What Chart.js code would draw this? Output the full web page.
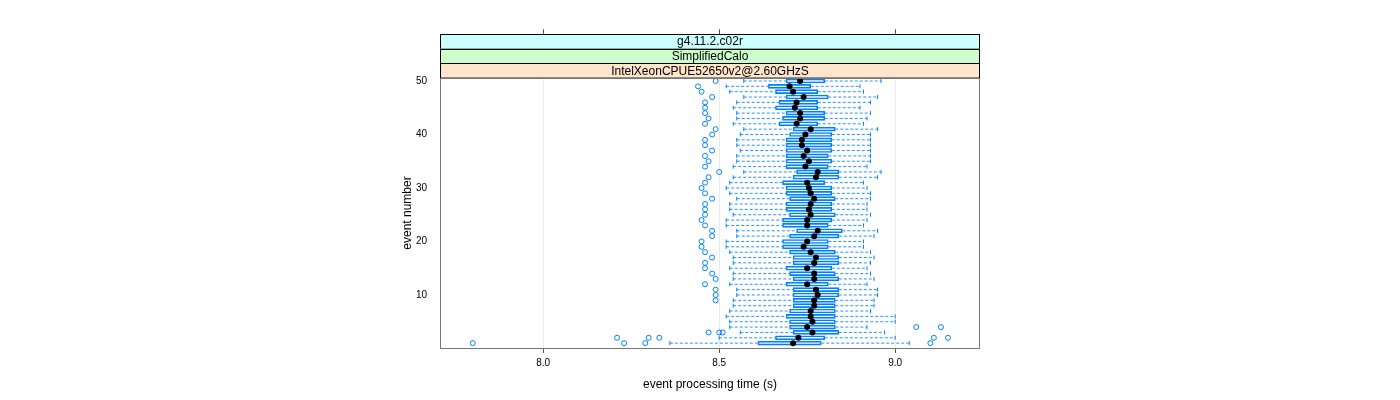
<!DOCTYPE html>
<html>
<head>
<meta charset="utf-8">
<script src="https://cdn.jsdelivr.net/npm/chart.js@4"></script>
<style>
  html, body { margin: 0; padding: 0; background: #fff; }
  #wrap { width: 1400px; height: 400px; }
</style>
</head>
<body>
<div id="wrap"><canvas id="myChart" width="1400" height="400"></canvas></div>
<script>
// event numbers 1..50
const events = Array.from({length: 50}, (_, i) => i + 1);

// box statistics per event (seconds), event 1 first
const whiskerLow = [8.36, 8.50, 8.56, 8.53, 8.53, 8.52, 8.53, 8.54, 8.54, 8.55,
  8.55, 8.53, 8.54, 8.54, 8.53, 8.54, 8.54, 8.53, 8.52, 8.52,
  8.55, 8.55, 8.52, 8.52, 8.54, 8.53, 8.53, 8.55, 8.53, 8.52,
  8.53, 8.54, 8.57, 8.54, 8.55, 8.55, 8.56, 8.55, 8.55, 8.56,
  8.57, 8.54, 8.55, 8.55, 8.54, 8.55, 8.57, 8.53, 8.52, 8.57];
const q1 = [8.61, 8.66, 8.71, 8.70, 8.70, 8.69, 8.70, 8.71, 8.71, 8.71,
  8.71, 8.69, 8.71, 8.70, 8.69, 8.71, 8.71, 8.70, 8.68, 8.68,
  8.70, 8.72, 8.68, 8.68, 8.70, 8.69, 8.69, 8.70, 8.69, 8.69,
  8.68, 8.71, 8.72, 8.69, 8.69, 8.69, 8.69, 8.69, 8.69, 8.70,
  8.71, 8.67, 8.68, 8.69, 8.66, 8.67, 8.69, 8.66, 8.64, 8.69];
const medians = [8.71, 8.725, 8.765, 8.75, 8.765, 8.76, 8.76, 8.77, 8.77, 8.78,
  8.775, 8.75, 8.77, 8.77, 8.75, 8.77, 8.775, 8.76, 8.74, 8.75,
  8.77, 8.78, 8.75, 8.75, 8.76, 8.755, 8.76, 8.77, 8.76, 8.755,
  8.75, 8.775, 8.78, 8.745, 8.755, 8.74, 8.75, 8.735, 8.735, 8.745,
  8.76, 8.72, 8.73, 8.73, 8.715, 8.72, 8.74, 8.71, 8.70, 8.73];
const q3 = [8.79, 8.80, 8.84, 8.83, 8.83, 8.83, 8.83, 8.83, 8.83, 8.84,
  8.84, 8.81, 8.84, 8.83, 8.82, 8.84, 8.84, 8.83, 8.81, 8.81,
  8.84, 8.85, 8.81, 8.82, 8.83, 8.82, 8.82, 8.83, 8.82, 8.82,
  8.80, 8.84, 8.84, 8.81, 8.82, 8.81, 8.82, 8.82, 8.82, 8.82,
  8.83, 8.78, 8.80, 8.80, 8.78, 8.78, 8.81, 8.78, 8.76, 8.80];
const whiskerHigh = [9.04, 9.00, 8.97, 8.92, 9.00, 9.00, 8.93, 8.94, 8.94, 8.95,
  8.95, 8.92, 8.94, 8.93, 8.92, 8.93, 8.94, 8.93, 8.91, 8.91,
  8.94, 8.95, 8.91, 8.92, 8.93, 8.92, 8.92, 8.93, 8.93, 8.92,
  8.91, 8.95, 8.96, 8.92, 8.93, 8.93, 8.93, 8.93, 8.93, 8.93,
  8.95, 8.91, 8.92, 8.93, 8.90, 8.93, 8.95, 8.91, 8.90, 8.96];
const outliers = [
  [7.80, 8.23, 8.29, 9.10], [8.21, 8.30, 8.33, 9.11, 9.15], [8.47, 8.50, 8.51], [9.06, 9.13], [],
  [], [], [], [8.49], [8.49],
  [8.49], [8.46], [8.49], [8.48], [8.46], [8.46], [8.48], [8.46], [8.45], [8.45],
  [8.48], [8.48], [8.46], [8.45], [8.46], [8.46], [8.46], [8.48], [8.46], [8.45],
  [8.46], [8.47], [8.50], [8.46], [8.47], [8.46], [8.48], [8.46], [8.46], [8.48],
  [8.49], [8.46], [8.47], [8.46], [8.46], [8.46], [8.48], [8.45], [8.44], [8.49]
];

// axis ticks
const xTicks = [8.0, 8.5, 9.0];
const yTicks = [10, 20, 30, 40, 50];

// strip labels, top to bottom
const strips = ['g4.11.2.c02r', 'SimplifiedCalo', 'IntelXeonCPUE52650v2@2.60GHzS'];
const stripColors = ['#CCFFFF', '#CCFFCC', '#FFE5CC'];

const blue = '#0080FF';
const font = 'Liberation Sans, Arial, Helvetica, sans-serif';

// whisker segments, broken with null between events
const whiskerPts = [];
const capPts = [];
events.forEach((k, i) => {
  whiskerPts.push({x: whiskerLow[i], y: k}, {x: q1[i], y: k}, {x: q1[i], y: null});
  whiskerPts.push({x: q3[i], y: k}, {x: whiskerHigh[i], y: k}, {x: whiskerHigh[i], y: null});
  capPts.push({x: whiskerLow[i], y: k}, {x: whiskerHigh[i], y: k});
});
const outlierPts = [];
events.forEach((k, i) => outliers[i].forEach(v => outlierPts.push({x: v, y: k})));

// strips, top ticks and panel border
const panelDecor = {
  id: 'panelDecor',
  afterDraw(chart) {
    const {ctx, chartArea: a, scales} = chart;
    const h = 14.6;
    ctx.save();
    strips.forEach((s, j) => {
      const top = a.top - (strips.length - j) * h;
      ctx.fillStyle = stripColors[j];
      ctx.fillRect(a.left, top, a.right - a.left, h);
      ctx.strokeStyle = '#000';
      ctx.lineWidth = 1;
      ctx.strokeRect(a.left + 0.5, Math.round(top) + 0.5, a.right - a.left - 1, h);
      ctx.fillStyle = '#000';
      ctx.font = '12px ' + font;
      ctx.textAlign = 'center';
      ctx.textBaseline = 'middle';
      ctx.fillText(s, (a.left + a.right) / 2, top + h / 2 + 0.5);
    });
    const stripTop = a.top - strips.length * h;
    ctx.strokeStyle = '#555';
    xTicks.forEach(v => {
      const px = Math.round(scales.x.getPixelForValue(v)) + 0.5;
      ctx.beginPath();
      ctx.moveTo(px, stripTop - 5);
      ctx.lineTo(px, stripTop);
      ctx.stroke();
    });
    ctx.strokeStyle = '#777';
    ctx.strokeRect(a.left + 0.5, a.top + 0.5, a.right - a.left - 1, a.bottom - a.top);
    ctx.restore();
  }
};

const ctx = document.getElementById('myChart').getContext('2d');
const myChart = new Chart(ctx, {
  type: 'scatter',
  data: {
    datasets: [
      {
        type: 'line',
        data: whiskerPts,
        borderColor: 'rgba(0,128,255,0.85)',
        backgroundColor: blue,
        borderWidth: 1,
        borderDash: [3, 2],
        pointRadius: 0,
        fill: false,
        spanGaps: false,
        order: 4
      },
      {
        data: capPts,
        pointStyle: 'line',
        rotation: 90,
        radius: 2,
        borderColor: blue,
        borderWidth: 1,
        order: 3
      },
      {
        type: 'bar',
        indexAxis: 'y',
        data: events.map((k, i) => ({x: [q1[i], q3[i]], y: k})),
        backgroundColor: 'rgba(0,128,255,0.06)',
        borderColor: blue,
        borderWidth: 1,
        borderSkipped: false,
        barThickness: 4,
        order: 2
      },
      {
        data: outlierPts,
        pointStyle: 'circle',
        radius: 2.5,
        backgroundColor: 'rgba(0,0,0,0)',
        borderColor: blue,
        borderWidth: 1,
        order: 1
      },
      {
        data: events.map((k, i) => ({x: medians[i], y: k})),
        pointStyle: 'circle',
        radius: 3,
        backgroundColor: '#000',
        borderColor: '#000',
        borderWidth: 0,
        order: 0
      }
    ]
  },
  options: {
    responsive: false,
    animation: false,
    layout: {padding: {left: 395, right: 420, top: 78, bottom: 0}},
    plugins: {legend: {display: false}, tooltip: {enabled: false}},
    scales: {
      x: {
        type: 'linear',
        min: 7.707,
        max: 9.241,
        beginAtZero: false,
        offset: false,
        afterBuildTicks: axis => { axis.ticks = xTicks.map(v => ({value: v})); },
        afterFit: axis => { axis.height = 52; },
        grid: {color: '#ebebeb', tickColor: '#555', tickLength: 5, offset: false},
        border: {display: false},
        ticks: {
          color: '#000',
          font: {family: font, size: 10},
          padding: 4,
          maxRotation: 0,
          callback: v => v.toFixed(1)
        },
        title: {
          display: true,
          text: 'event processing time (s)',
          color: '#000',
          font: {family: font, size: 12},
          padding: {top: 0, bottom: 8}
        }
      },
      y: {
        type: 'linear',
        min: 0.09,
        max: 50.56,
        offset: false,
        afterBuildTicks: axis => { axis.ticks = yTicks.map(v => ({value: v})); },
        afterFit: axis => { axis.width = 45; },
        grid: {display: false, drawTicks: false, offset: false},
        border: {display: false},
        ticks: {
          color: '#000',
          font: {family: font, size: 10},
          padding: 13
        },
        title: {
          display: true,
          text: 'event number',
          color: '#000',
          font: {family: font, size: 12},
          padding: {top: 5, bottom: 0}
        }
      }
    }
  },
  plugins: [panelDecor]
});
</script>
</body>
</html>
